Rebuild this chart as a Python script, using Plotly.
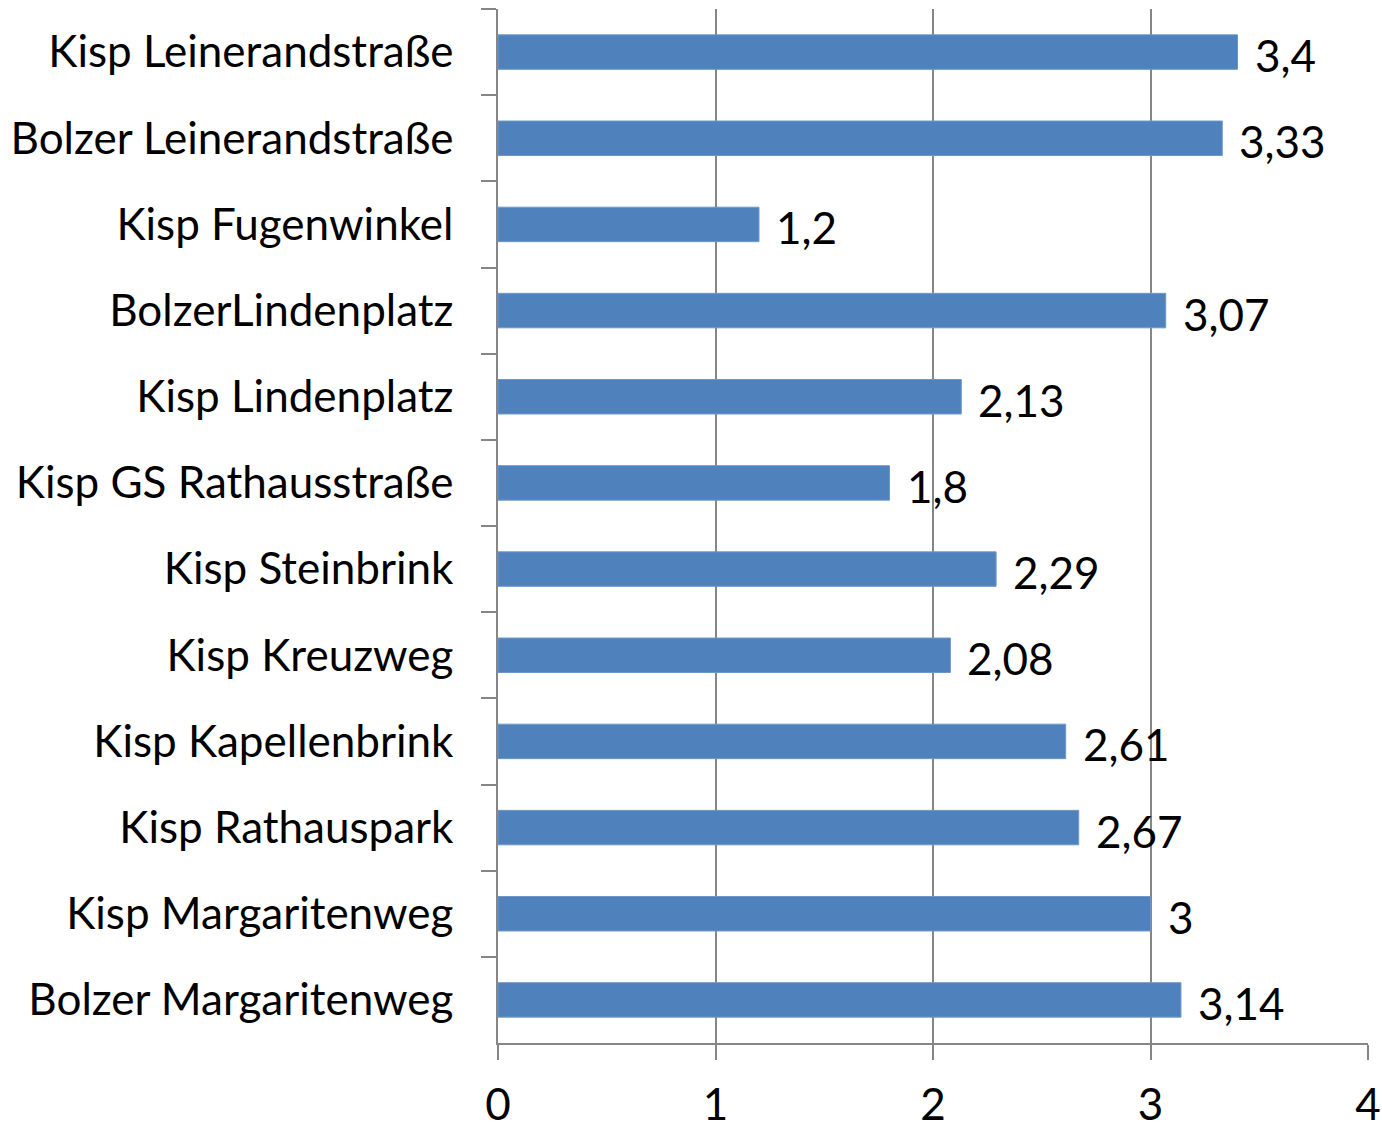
import plotly.graph_objects as go

categories = ["Kisp Leinerandstraße", "Bolzer Leinerandstraße", "Kisp Fugenwinkel",
              "BolzerLindenplatz", "Kisp Lindenplatz", "Kisp GS Rathausstraße",
              "Kisp Steinbrink", "Kisp Kreuzweg", "Kisp Kapellenbrink",
              "Kisp Rathauspark", "Kisp Margaritenweg", "Bolzer Margaritenweg"]
values = [3.4, 3.33, 1.2, 3.07, 2.13, 1.8, 2.29, 2.08, 2.61, 2.67, 3, 3.14]
x_ticks = [0, 1, 2, 3, 4]

def fmt(v):
    s = ("%g" % v)
    return s.replace(".", ",")

FONT = "Lato"
FS = 44
GRID = "#868686"

fig = go.Figure()
fig.add_trace(go.Bar(
    y=categories, x=values, orientation="h", width=0.4,
    marker=dict(color="#4F81BD", line=dict(color="#6E97C9", width=1)),
    hoverinfo="skip",
))

for c, v in zip(categories, values):
    fig.add_annotation(x=v, y=c, text=fmt(v), showarrow=False, xanchor="left",
                       yanchor="middle", xshift=15, yshift=-3,
                       font=dict(family=FONT, size=FS, color="black"))

fig.update_layout(
    width=1382, height=1122,
    margin=dict(l=498, r=14, t=9, b=79, autoexpand=False),
    paper_bgcolor="white", plot_bgcolor="white",
    showlegend=False,
    font=dict(family=FONT, size=FS, color="black"),
)
fig.update_xaxes(
    range=[0, 4], tickvals=x_ticks, ticktext=[str(t) for t in x_ticks],
    showgrid=True, gridcolor=GRID, gridwidth=1.5,
    showline=True, linecolor=GRID, linewidth=1.5,
    ticks="outside", ticklen=15, tickcolor=GRID, tickwidth=1.5,
    ticklabelstandoff=7, zeroline=False, automargin=False,
    tickfont=dict(family=FONT, size=FS, color="black"),
)
fig.update_yaxes(
    type="category", categoryorder="array", categoryarray=categories,
    autorange="reversed",
    showgrid=False, showline=True, linecolor=GRID, linewidth=1.5,
    ticks="outside", ticklen=15, tickcolor=GRID, tickwidth=1.5,
    tickson="boundaries", ticklabelstandoff=34, automargin=False,
    tickfont=dict(family=FONT, size=FS, color="black"),
)

fig.write_html(
    "out.html",
    config={"displayModeBar": False},
    post_script="document.body.style.margin='0';document.body.style.overflow='hidden';",
)
